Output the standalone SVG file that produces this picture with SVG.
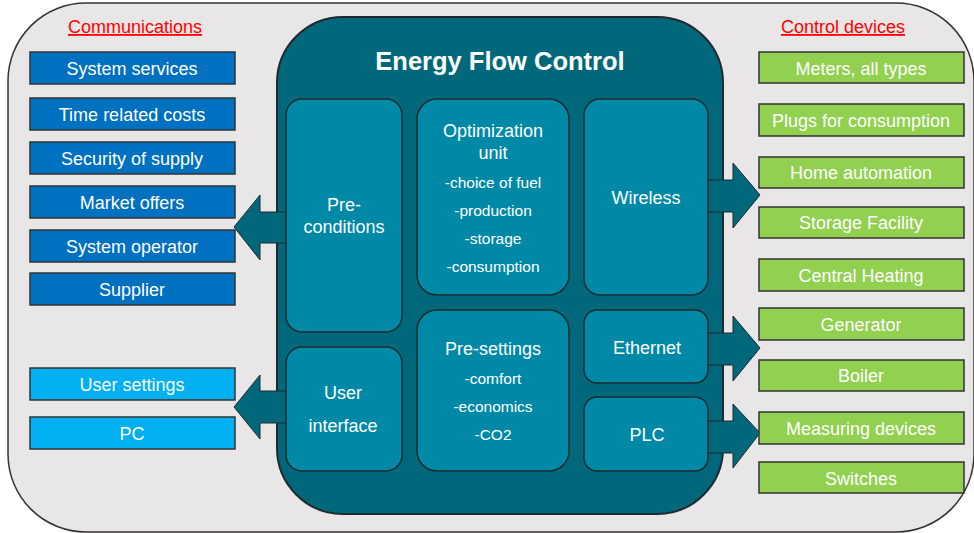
<svg xmlns="http://www.w3.org/2000/svg" width="974" height="533" viewBox="0 0 974 533">
<style>
text{font-family:"Liberation Sans",Arial,sans-serif;fill:#fff;text-anchor:middle}
.hd{font-size:18px;fill:#FF0000;text-decoration:underline}
.lb{font-size:18px}
.sm{font-size:15.5px}
.ttl{font-size:25.5px;font-weight:bold}
.comm{fill:#0070C0;stroke:#333;stroke-width:1.5}
.user{fill:#00B0F0;stroke:#333;stroke-width:1.5}
.dev{fill:#92D050;stroke:#333;stroke-width:1.5}
.inner{fill:#0089A7;stroke:#1f2a2e;stroke-width:1.5}
.arr{fill:#00687A;stroke:#1f2a2e;stroke-width:1}
</style>
<rect x="8" y="3" width="966" height="529" rx="78" ry="78" fill="#E8E6E7" stroke="#333" stroke-width="1.5"/>
<text class="hd" x="135" y="33">Communications</text>
<text class="hd" x="843" y="33">Control devices</text>

<g id="main">
<rect x="277" y="17" width="446" height="497" rx="66" ry="66" fill="#00687A" stroke="#1f2a2e" stroke-width="2"/>
<text class="ttl" x="500" y="70">Energy Flow Control</text>
</g>

<g id="connectors">
<polygon class="arr" points="287,212 260,212 260,195 234,227 260,260 260,243 287,243"/>
<polygon class="arr" points="287,391 260,391 260,375 234,407 260,439 260,423 287,423"/>
<polygon class="arr" points="707,180 733,180 733,163 760,195 733,228 733,212 707,212"/>
<polygon class="arr" points="707,333 733,333 733,316 760,348 733,381 733,365 707,365"/>
<polygon class="arr" points="707,421 733,421 733,404 760,433 733,468 733,453 707,453"/>
</g>

<g id="preconditions"><rect class="inner" x="286" y="99" width="116" height="233" rx="16"/>
<text class="lb" x="344" y="211">Pre-</text><text class="lb" x="344" y="233">conditions</text></g>
<g id="optimization"><rect class="inner" x="417" y="99" width="152" height="196" rx="20"/>
<text class="lb" x="493" y="137">Optimization</text><text class="lb" x="493" y="159">unit</text>
<text class="sm" x="493" y="188">-choice of fuel</text>
<text class="sm" x="493" y="216">-production</text>
<text class="sm" x="493" y="244">-storage</text>
<text class="sm" x="493" y="272">-consumption</text></g>
<g id="wireless"><rect class="inner" x="584" y="99" width="124" height="196" rx="16"/>
<text class="lb" x="646" y="204">Wireless</text></g>
<g id="userinterface"><rect class="inner" x="286" y="347" width="116" height="124" rx="16"/>
<text class="lb" x="343" y="399">User</text><text class="lb" x="343" y="432">interface</text></g>
<g id="presettings"><rect class="inner" x="417" y="310" width="152" height="161" rx="20"/>
<text class="lb" x="493" y="355">Pre-settings</text>
<text class="sm" x="493" y="384">-comfort</text>
<text class="sm" x="493" y="412">-economics</text>
<text class="sm" x="493" y="440">-CO2</text></g>
<g id="ethernet"><rect class="inner" x="584" y="310" width="124" height="73" rx="13"/>
<text class="lb" x="647" y="354">Ethernet</text></g>
<g id="plc"><rect class="inner" x="584" y="397" width="124" height="74" rx="13"/>
<text class="lb" x="647" y="441">PLC</text></g>

<g id="system-services"><rect class="comm" x="30" y="52" width="205" height="32"/><text class="lb" x="132" y="75">System services</text></g>
<g id="time-related-costs"><rect class="comm" x="30" y="98" width="205" height="32"/><text class="lb" x="132" y="121">Time related costs</text></g>
<g id="security-of-supply"><rect class="comm" x="30" y="142" width="205" height="32"/><text class="lb" x="132" y="165">Security of supply</text></g>
<g id="market-offers"><rect class="comm" x="30" y="186" width="205" height="32"/><text class="lb" x="132" y="209">Market offers</text></g>
<g id="system-operator"><rect class="comm" x="30" y="230" width="205" height="32"/><text class="lb" x="132" y="253">System operator</text></g>
<g id="supplier"><rect class="comm" x="30" y="273" width="205" height="32"/><text class="lb" x="132" y="296">Supplier</text></g>
<g id="user-settings"><rect class="user" x="30" y="368" width="205" height="32"/><text class="lb" x="132" y="391">User settings</text></g>
<g id="pc"><rect class="user" x="30" y="417" width="205" height="32"/><text class="lb" x="132" y="440">PC</text></g>

<g id="meters"><rect class="dev" x="759" y="52" width="205" height="31"/><text class="lb" x="861" y="75">Meters, all types</text></g>
<g id="plugs"><rect class="dev" x="759" y="104" width="205" height="32"/><text class="lb" x="861" y="127">Plugs for consumption</text></g>
<g id="home-automation"><rect class="dev" x="759" y="157" width="205" height="31"/><text class="lb" x="861" y="179">Home automation</text></g>
<g id="storage-facility"><rect class="dev" x="759" y="207" width="205" height="31"/><text class="lb" x="861" y="229">Storage Facility</text></g>
<g id="central-heating"><rect class="dev" x="759" y="259" width="205" height="32"/><text class="lb" x="861" y="282">Central Heating</text></g>
<g id="generator"><rect class="dev" x="759" y="308" width="205" height="32"/><text class="lb" x="861" y="331">Generator</text></g>
<g id="boiler"><rect class="dev" x="759" y="360" width="205" height="31"/><text class="lb" x="861" y="382">Boiler</text></g>
<g id="measuring-devices"><rect class="dev" x="759" y="412" width="205" height="32"/><text class="lb" x="861" y="435">Measuring devices</text></g>
<g id="switches"><rect class="dev" x="759" y="462" width="205" height="31"/><text class="lb" x="861" y="485">Switches</text></g>
</svg>
